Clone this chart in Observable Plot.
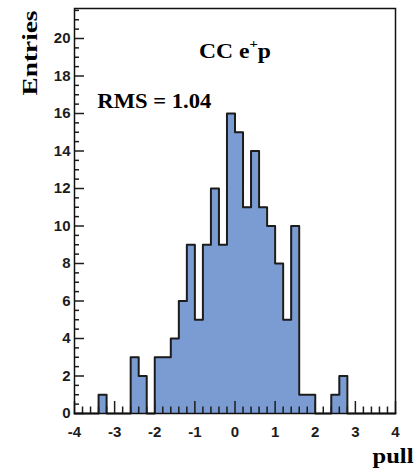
<!DOCTYPE html>
<html>
<head>
<meta charset="utf-8">
<script src="https://cdn.jsdelivr.net/npm/d3@7"></script>
<script src="https://cdn.jsdelivr.net/npm/@observablehq/plot@0.6"></script>
<style>
  html, body { margin: 0; padding: 0; background: #fff; }
</style>
</head>
<body>
<div id="chart"></div>
<script>
// ---- data ----
const binStart = -4;       // first bin lower edge
const binWidth = 0.2;      // histogram bin width
const counts = [0,0,0,1,0,0,0,3,2,0, 3,3,4,6,9,5,9,12,9,16,
                15,11,14,11,10,8,5,10,1,1, 0,0,1,2,0,0,0,0,0,0];
const xMajorTicks = [-4,-3,-2,-1,0,1,2,3,4];
const yMajorTicks = [0,2,4,6,8,10,12,14,16,18,20];
const xLabels = ["-4","-3","-2","-1","0","1","2","3","4"];
const yLabels = ["0","2","4","6","8","10","12","14","16","18","20"];
const titleText = "CC e+p";
const rmsText = "RMS = 1.04";
const xTitle = "pull";
const yTitle = "Entries";

// ---- derived tables ----
const edges = counts.map((_, i) => +(binStart + i * binWidth).toFixed(2));
const outline = [];
counts.forEach((c, i) => {
  outline.push({x: edges[i], y: c});
  outline.push({x: +(edges[i] + binWidth).toFixed(2), y: c});
});
const xMinorTicks = d3.range(41).map(i => +(-4 + i * 0.2).toFixed(2)).filter(v => !xMajorTicks.includes(v));
const yMinorTicks = d3.range(44).map(i => i * 0.5).filter(v => !yMajorTicks.includes(v) && v <= 21.6);

const W = 416, H = 469;
const mL = 74, mR = 21, mT = 8, mB = 56;
const innerW = W - mL - mR, innerH = H - mT - mB;

const serif = "'Liberation Serif', 'DejaVu Serif', serif";
const sans = "'Liberation Sans', Arial, sans-serif";
const ink = "#1c1c1c";

const chart = Plot.plot({
  width: W, height: H,
  marginLeft: mL, marginRight: mR, marginTop: mT, marginBottom: mB,
  x: {domain: [-4, 4], axis: null},
  y: {domain: [0, 21.6], axis: null},
  style: {background: "#fff", overflow: "visible"},
  marks: [
    Plot.areaY(outline, {x: "x", y1: 0, y2: "y", fill: "#7b9bd3", curve: "linear"}),
    Plot.line(outline, {x: "x", y: "y", stroke: ink, strokeWidth: 2, curve: "linear"}),
    // x ticks (inside frame, ROOT style)
    Plot.tickX(xMinorTicks, {x: d => d, stroke: ink, strokeWidth: 1.5, insetTop: innerH - 6.5}),
    Plot.tickX(xMajorTicks, {x: d => d, stroke: ink, strokeWidth: 1.5, insetTop: innerH - 12}),
    // y ticks
    Plot.tickY(yMinorTicks, {y: d => d, stroke: ink, strokeWidth: 1.5, insetRight: innerW - 5}),
    Plot.tickY(yMajorTicks, {y: d => d, stroke: ink, strokeWidth: 1.5, insetRight: innerW - 10}),
    Plot.frame({stroke: "#111", strokeWidth: 1.5}),
    // tick labels
    Plot.text(xMajorTicks, {x: d => d, y: 0, text: (d, i) => xLabels[i], dy: 23, lineAnchor: "bottom",
      fontSize: 15, fontWeight: "bold", fontFamily: sans, fill: ink}),
    Plot.text(yMajorTicks, {x: -4, y: d => d, text: (d, i) => yLabels[i], dx: -4, textAnchor: "end",
      fontSize: 15, fontWeight: "bold", fontFamily: sans, fill: ink}),
    // annotations
    Plot.text([titleText], {x: 0, y: 18.95, text: d => d, textAnchor: "middle", lineAnchor: "bottom",
      fontSize: 21, fontWeight: "bold", fontFamily: serif, fill: "#000"}),
    Plot.text([rmsText], {x: -3.43, y: 16.27, text: d => d, textAnchor: "start", lineAnchor: "bottom",
      fontSize: 20, fontWeight: "bold", fontFamily: serif, fill: "#000"}),
    Plot.text([xTitle], {frameAnchor: "bottom-right", text: d => d, textAnchor: "end", lineAnchor: "bottom",
      dx: 18, dy: 49, fontSize: 21, fontWeight: "bold", fontFamily: serif, fill: "#000"}),
    Plot.text([yTitle], {frameAnchor: "top-left", text: d => d, rotate: -90, textAnchor: "end", lineAnchor: "bottom",
      dx: -38, dy: 2, fontSize: 21, fontWeight: "bold", fontFamily: serif, fill: "#000"})
  ]
});

// stretch serif labels to the reference widths and add the superscript
const widths = {"CC e+p": 72, "RMS = 1.04": 114, "pull": 41, "Entries": 85};
d3.select(chart).selectAll("text").each(function() {
  const t = this.textContent;
  if (widths[t] !== undefined) {
    d3.select(this).attr("textLength", widths[t]).attr("lengthAdjust", "spacingAndGlyphs");
  }
  if (t === titleText) {
    const el = d3.select(this);
    el.text(null);
    el.append("tspan").text("CC e");
    el.append("tspan").attr("dy", "-0.75em").attr("font-size", "0.62em").text("+");
    el.append("tspan").attr("dy", "0.47em").text("p");
  }
});

document.getElementById("chart").appendChild(chart);
</script>
</body>
</html>
